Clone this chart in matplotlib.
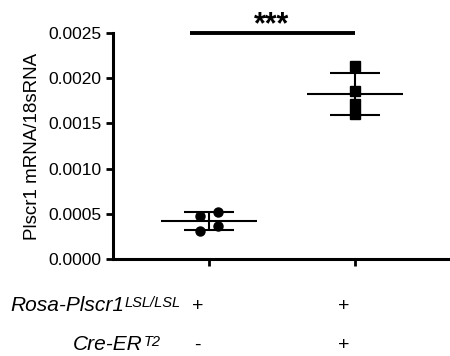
import numpy as np
import matplotlib.pyplot as plt
import matplotlib.transforms as mtransforms

plt.rcParams['font.family'] = ['Liberation Sans', 'DejaVu Sans']

# datos
grupos = [1, 2]
# Rosa-Plscr1 + / Cre-ER -
ctrl = [0.000476, 0.00031, 0.00052, 0.000365]
ctrl_jitter = [-0.06, -0.06, 0.06, 0.06]
# Rosa-Plscr1 + / Cre-ER +
cre = [0.00214, 0.00186, 0.00172, 0.00160]
cre_jitter = [0.0, 0.0, 0.0, 0.0]

fila_rosa = ['+', '+']
fila_cre = ['-', '+']
yticks = [0.0, 0.0005, 0.0010, 0.0015, 0.0020, 0.0025]

fig = plt.figure(figsize=(4.5, 3.56), dpi=100)
ax = fig.add_axes([0.251, 0.2725, 0.749, 0.6345])

for xg, vals, jit, mk, ms in [(1, ctrl, ctrl_jitter, 'o', 6.5), (2, cre, cre_jitter, 's', 7.5)]:
    vals = np.array(vals)
    m = vals.mean()
    sd = vals.std(ddof=1)
    ax.hlines(m, xg - 0.33, xg + 0.33, color='black', lw=1.5, zorder=2)
    ax.hlines([m - sd, m + sd], xg - 0.17, xg + 0.17, color='black', lw=1.5, zorder=2)
    ax.vlines(xg, m - sd, m + sd, color='black', lw=1.5, zorder=2)
    ax.plot(xg + np.array(jit), vals, linestyle='none', marker=mk, ms=ms,
            color='black', zorder=3, clip_on=False)

# barra de significancia
ax.plot([0.87, 2.0], [0.0025, 0.0025], color='black', lw=2.8, solid_capstyle='butt', clip_on=False)
ax.text(1.43, 0.002495, '***', ha='center', va='baseline', fontsize=22, fontweight='bold')

ax.set_xlim(0.342, 2.65)
ax.set_ylim(0, 0.0025)
ax.set_yticks(yticks)
ax.set_yticklabels(['%.4f' % v for v in yticks], fontsize=12.5)
ax.set_xticks(grupos)
ax.set_xticklabels([])
ax.tick_params(axis='both', width=2, length=5, direction='out')
ax.set_ylabel('Plscr1 mRNA/18sRNA', fontsize=13.5, labelpad=5)
for s in ['top', 'right']:
    ax.spines[s].set_visible(False)
for s in ['left', 'bottom']:
    ax.spines[s].set_linewidth(2.2)

# filas de genotipo debajo del eje
y_rosa = 1 - 311 / 356
y_cre = 1 - 350 / 356
t1 = fig.text(10 / 450, y_rosa, 'Rosa-Plscr1', fontsize=15, style='italic', ha='left', va='baseline')
ax.annotate('LSL/LSL', xy=(1.0, 0.5), xycoords=t1, xytext=(0.5, 2), textcoords='offset points',
            fontsize=10.5, style='italic', ha='left', va='center')
t2 = fig.text(73 / 450, y_cre, 'Cre-ER', fontsize=15, style='italic', ha='left', va='baseline')
ax.annotate('T2', xy=(1.0, 0.5), xycoords=t2, xytext=(0.5, 2), textcoords='offset points',
            fontsize=10.5, style='italic', ha='left', va='center')

trans = mtransforms.blended_transform_factory(ax.transData, fig.transFigure)
for xg, r, c in zip(grupos, fila_rosa, fila_cre):
    ax.text(xg - 0.08, y_rosa, r, transform=trans, ha='center', va='baseline', fontsize=14)
    ax.text(xg - 0.08, y_cre, c, transform=trans, ha='center', va='baseline', fontsize=14)

fig.savefig('out.png', dpi=100)
